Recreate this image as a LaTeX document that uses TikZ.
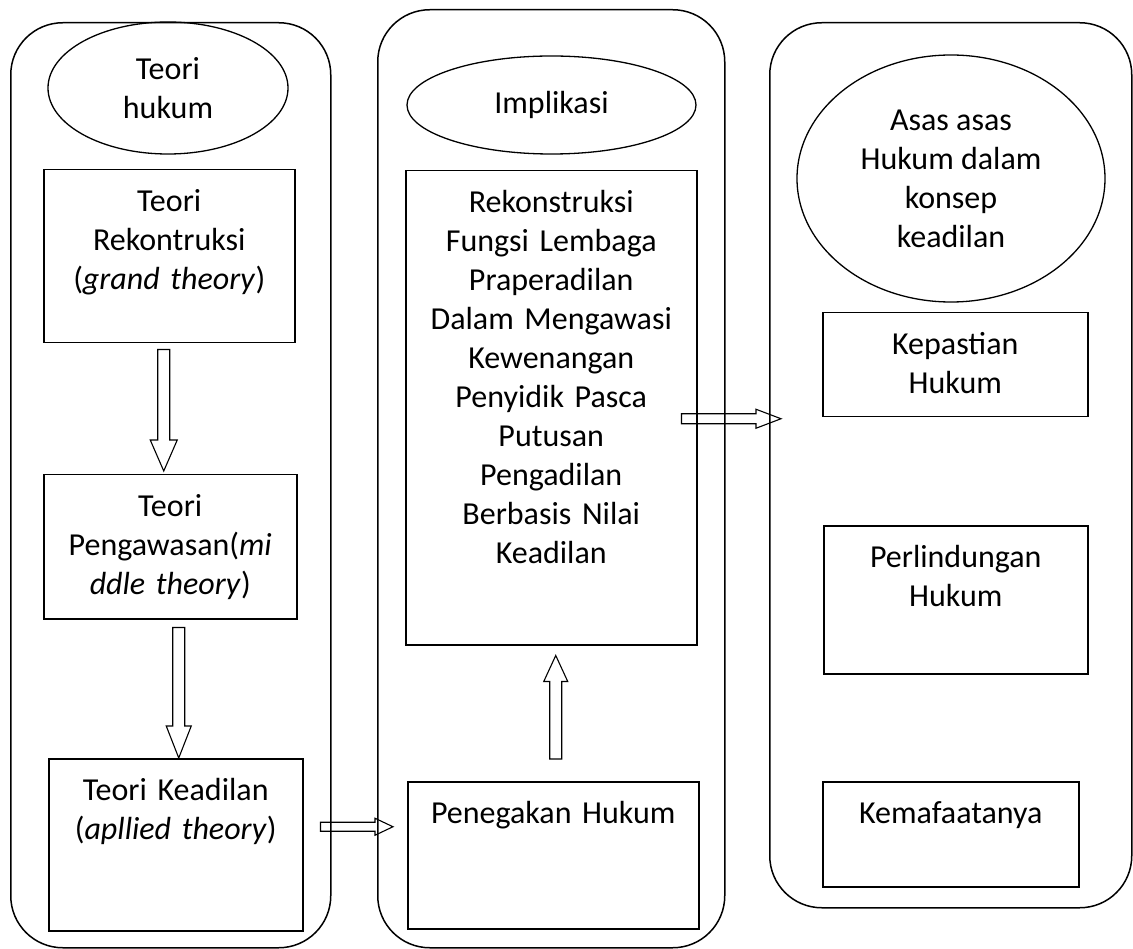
\documentclass[tikz,border=0pt]{standalone}
\usepackage{fontspec}
\setmainfont{Carlito}
\usetikzlibrary{shapes.geometric,calc,positioning}

\tikzset{
  panel/.style={draw, line width=1.5pt, rounded corners=52pt, anchor=north west, inner sep=0pt},
  oval/.style={draw, ellipse, line width=1.3pt, align=center, inner sep=0pt},
  stepbox/.style={draw, line width=1.5pt, anchor=north west, align=center, inner sep=0pt, text height=42pt},
  arrowsize/.code args={#1/#2/#3}{\def\aw{#1}\def\ah{#2}\def\al{#3}},
  hollow/.style={draw, line width=1.1pt, line join=miter, arrowsize=#1,
    to path={let \p1=(\tikztostart), \p2=(\tikztotarget),
      \n1={atan2(\y2-\y1,\x2-\x1)}, \n2={veclen(\x2-\x1,\y2-\y1)} in
      ($(\p1)+(\n1+90:\aw)$) -- ++(\n1:\n2-\al) -- ++(\n1+90:\ah-\aw) -- (\p2)
      -- ($(\p1)+(\n1:\n2-\al)+(\n1-90:\ah)$) -- ++(\n1+90:\ah-\aw)
      -- ++(\n1+180:\n2-\al) -- cycle}},
}

\begin{document}
\begin{tikzpicture}[x=1pt,y=-1pt,font=\fontsize{32}{39}\selectfont]
\useasboundingbox (0,0) rectangle (1133,949);

% three columns
\node[panel, minimum width=320pt, minimum height=925pt] (p1) at (10,22) {};
\node[panel, minimum width=347pt, minimum height=938pt] (p2) at (377,9) {};
\node[panel, minimum width=362pt, minimum height=885pt] (p3) at (769,22) {};

% left column
\node[oval, minimum width=240pt, minimum height=132pt] (e1) at (168,88) {Teori\\hukum};
\node[stepbox, text width=251pt, text depth=131pt] (b1) at (43,169) {Teori\\Rekontruksi\\(\textit{grand theory})};
\node[stepbox, text width=253pt, text depth=102pt] (b2) at (43,474) {Teori\\Pengawasan(\textit{mi}\\\textit{ddle theory})};
\node[stepbox, text width=254pt, text depth=130pt] (b3) at (48,758) {Teori Keadilan\\(\textit{apllied theory})};

% middle column
\node[oval, minimum width=289pt, minimum height=98pt] (e2) at (551.5,105) {Implikasi};
\node[stepbox, text width=291pt, text depth=432pt] (m1) at (405,170) {Rekonstruksi\\Fungsi Lembaga\\Praperadilan\\Dalam Mengawasi\\Kewenangan\\Penyidik Pasca\\Putusan\\Pengadilan\\Berbasis Nilai\\Keadilan};
\node[stepbox, text width=291pt, text depth=105pt] (m2) at (407,781) {Penegakan Hukum};

% right column
\node[oval, minimum width=308pt, minimum height=247pt] (e3) at (951,178.5) {Asas asas\\Hukum dalam\\konsep\\keadilan};
\node[stepbox, text width=265pt, text depth=62pt] (r1) at (822,312) {Kepastian\\Hukum};
\node[stepbox, text width=264pt, text depth=106pt] (r2) at (823,525) {Perlindungan\\Hukum};
\node[stepbox, text width=256pt, text depth=63pt] (r3) at (822,781) {Kemafaatanya};

% block arrows
\draw[hollow=6pt/13.5pt/31pt] ([shift={(-5.5,6)}]b1.south) to ([shift={(-6.5,-3)}]b2.north);
\draw[hollow=6pt/12.5pt/32pt] ([shift={(8.5,8)}]b2.south) to ([shift={(3,0)}]b3.north);
\draw[hollow=6pt/12pt/26pt] ([shift={(2.5,-22)}]m2.north) to ([shift={(4.5,10)}]m1.south);
\draw[hollow=4.5pt/8.5pt/18pt] ([shift={(17,-18)}]b3.east) to ([shift={(-14,-28.5)}]m2.west);
\draw[hollow=5pt/9.5pt/25pt] ([shift={(-16,11)}]m1.east) to ([shift={(-41,54)}]r1.west);
\end{tikzpicture}
\end{document}
